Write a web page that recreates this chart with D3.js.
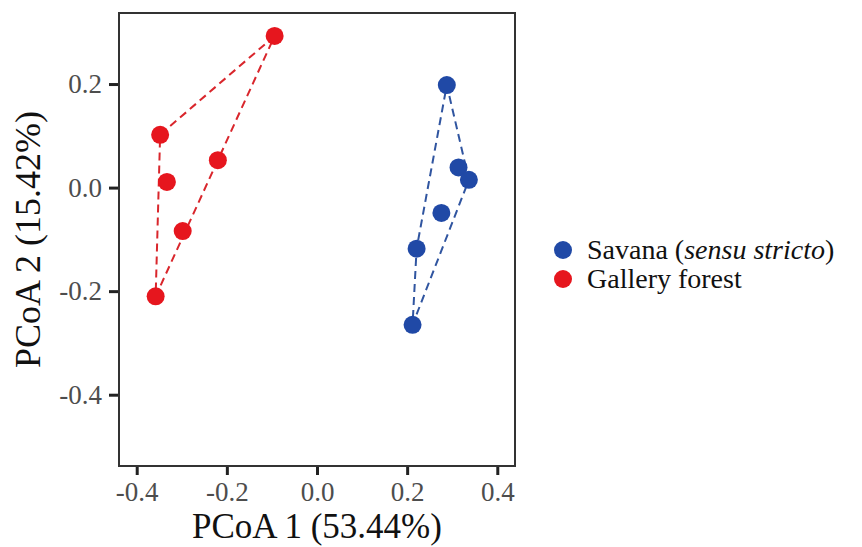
<!DOCTYPE html>
<html>
<head>
<meta charset="utf-8">
<script src="https://cdn.jsdelivr.net/npm/d3@7/dist/d3.min.js"></script>
<style>
  html, body { margin: 0; padding: 0; background: #fff; }
  svg { display: block; font-family: "Liberation Serif", "Times New Roman", serif; }
</style>
</head>
<body>
<svg id="chart" width="862" height="547"></svg>
<script>
// Data
const groups = ["Savana", "Gallery forest"];
const savanaX = [0.288, 0.314, 0.337, 0.276, 0.221, 0.212];
const savanaY = [0.198, 0.039, 0.015, -0.049, -0.118, -0.265];
const galleryX = [-0.094, -0.348, -0.333, -0.220, -0.298, -0.358];
const galleryY = [0.293, 0.102, 0.011, 0.053, -0.084, -0.210];
const xTicks = [-0.4, -0.2, 0.0, 0.2, 0.4];
const yTicks = [-0.4, -0.2, 0.0, 0.2];
const xTitle = "PCoA 1 (53.44%)";
const yTitle = "PCoA 2 (15.42%)";

const colors = { "Savana": "#2049a6", "Gallery forest": "#e6161e" };
const lineColors = { "Savana": "#3055a0", "Gallery forest": "#d9262c" };

const series = [
  { name: "Savana", pts: savanaX.map((x, i) => [x, savanaY[i]]) },
  { name: "Gallery forest", pts: galleryX.map((x, i) => [x, galleryY[i]]) }
];

const svg = d3.select("#chart");
const L = 119, R = 515, T = 13, B = 466;

const x = d3.scaleLinear().domain([-0.4393, 0.4393]).range([L, R]);
const y = d3.scaleLinear().domain([-0.5377, 0.3372]).range([B, T]);

// hulls
const gh = svg.append("g");
series.forEach(s => {
  const hull = d3.polygonHull(s.pts.map(p => [x(p[0]), y(p[1])]));
  gh.append("path")
    .attr("d", "M" + hull.map(p => p.join(",")).join("L") + "Z")
    .attr("fill", "none")
    .attr("stroke", lineColors[s.name])
    .attr("stroke-width", 2)
    .attr("stroke-dasharray", "8,5");
});

// points
series.forEach(s => {
  svg.append("g").selectAll("circle").data(s.pts).join("circle")
    .attr("cx", d => x(d[0])).attr("cy", d => y(d[1]))
    .attr("r", 9).attr("fill", colors[s.name]);
});

// frame
svg.append("rect").attr("x", L).attr("y", T).attr("width", R - L).attr("height", B - T)
  .attr("fill", "none").attr("stroke", "#333").attr("stroke-width", 2);

// axes
const xAxis = svg.append("g").attr("transform", `translate(0,${B + 1})`)
  .call(d3.axisBottom(x).tickValues(xTicks).tickFormat(d3.format(".1f")).tickSize(8).tickPadding(6));
const yAxis = svg.append("g").attr("transform", `translate(${L - 1},0)`)
  .call(d3.axisLeft(y).tickValues(yTicks).tickFormat(d3.format(".1f")).tickSize(9).tickPadding(7));
[xAxis, yAxis].forEach(a => {
  a.select(".domain").remove();
  a.selectAll(".tick line").attr("stroke", "#222").attr("stroke-width", 3);
  a.selectAll(".tick text").attr("fill", "#4d4d4d").attr("font-size", 27)
    .attr("font-family", "Liberation Serif, serif");
});
xAxis.selectAll(".tick text").attr("dy", "0.75em");
[xAxis, yAxis].forEach(a => a.selectAll(".tick text").text(d => d3.format(".1f")(d).replace("−", "-")));

// titles
svg.append("text").attr("x", (L + R) / 2).attr("y", 538).attr("text-anchor", "middle")
  .attr("font-size", 35).attr("fill", "#111").text(xTitle);
svg.append("text").attr("transform", `translate(40,${(T + B) / 2}) rotate(-90)`)
  .attr("text-anchor", "middle").attr("font-size", 36).attr("fill", "#111").text(yTitle);

// legend
const lg = svg.append("g");
const legendItems = [
  { name: "Savana", parts: [["Savana (", false], ["sensu stricto", true], [")", false]] },
  { name: "Gallery forest", parts: [["Gallery forest", false]] }
];
const ly0 = 250, lstep = 29;
legendItems.forEach((it, i) => {
  const cy = ly0 + i * lstep;
  lg.append("circle").attr("cx", 563).attr("cy", cy).attr("r", 9).attr("fill", colors[it.name]);
  const t = lg.append("text").attr("x", 587).attr("y", cy + 9).attr("font-size", 28).attr("fill", "#111");
  it.parts.forEach(p => t.append("tspan").attr("font-style", p[1] ? "italic" : "normal").text(p[0]));
});
</script>
</body>
</html>
